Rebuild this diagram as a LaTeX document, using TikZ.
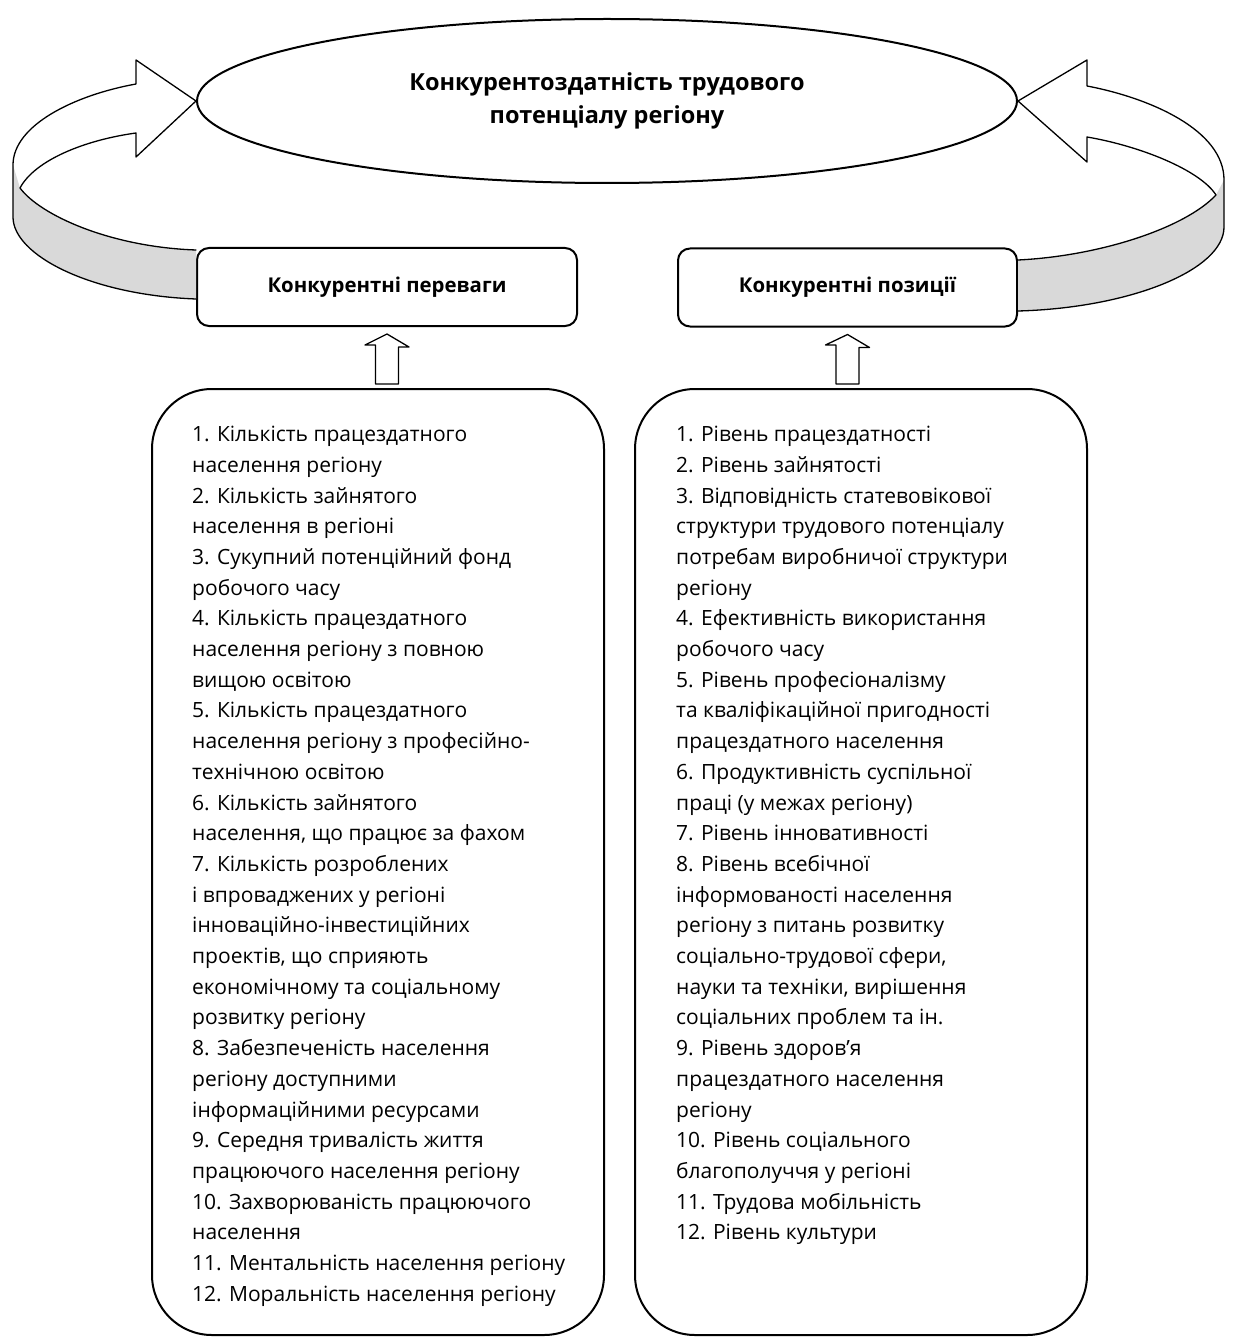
\documentclass[tikz,border=0pt]{standalone}
\usepackage{fontspec}
\setmainfont{Open Sans}
\usetikzlibrary{shapes.geometric,calc,positioning}

\begin{document}
\begin{tikzpicture}[x=1pt,y=-1pt,line join=round,line cap=round,
	hdrbox/.style={draw,line width=2pt,rounded corners=12pt,minimum height=78pt,
		font=\fontsize{20.4}{24}\selectfont\bfseries},
	listbox/.style={draw,line width=2pt,rounded corners=60pt,minimum width=452pt,minimum height=946pt},
	listtext/.style={anchor=north west,inner sep=0pt,align=left,
		font=\fontsize{21}{30.7}\selectfont},
	ribbon/.style={line width=1.3pt},
	bandfill/.style={fill=gray!30},
	hollow/.style={draw,line width=1.3pt}]
	\useasboundingbox (0,0) rectangle (1234,1337);
	% goal
	\node[ellipse,draw,line width=2pt,minimum width=820pt,minimum height=164pt,
		align=center,font=\fontsize{23.5}{33}\selectfont\bfseries] (goal) at (607,101)
		{Конкурентоздатність трудового\\потенціалу регіону};
	% two headers
	\node[hdrbox,minimum width=380pt] (adv) at (387,287) {Конкурентні переваги};
	\node[hdrbox,minimum width=339pt] (pos) at (847.5,287.5) {Конкурентні позиції};
	% two lists
	\node[listbox] (lstA) at (378,862) {};
	\node[listbox] (lstB) at (861,862) {};
	\node[listtext] (txtA) at ($(lstA.north west)+(41,38)$) {1. Кількість працездатного\\
		населення регіону\\
		2. Кількість зайнятого\\
		населення в регіоні\\
		3. Сукупний потенційний фонд\\
		робочого часу\\
		4. Кількість працездатного\\
		населення регіону з повною\\
		вищою освітою\\
		5. Кількість працездатного\\
		населення регіону з професійно-\\
		технічною освітою\\
		6. Кількість зайнятого\\
		населення, що працює за фахом\\
		7. Кількість розроблених\\
		і впроваджених у регіоні\\
		інноваційно-інвестиційних\\
		проектів, що сприяють\\
		економічному та соціальному\\
		розвитку регіону\\
		8. Забезпеченість населення\\
		регіону доступними\\
		інформаційними ресурсами\\
		9. Середня тривалість життя\\
		працюючого населення регіону\\
		10. Захворюваність працюючого\\
		населення\\
		11. Ментальність населення регіону\\
		12. Моральність населення регіону};
	\node[listtext] (txtB) at ($(lstB.north west)+(42,38)$) {1. Рівень працездатності\\
		2. Рівень зайнятості\\
		3. Відповідність статевовікової\\
		структури трудового потенціалу\\
		потребам виробничої структури\\
		регіону\\
		4. Ефективність використання\\
		робочого часу\\
		5. Рівень професіоналізму\\
		та кваліфікаційної пригодності\\
		працездатного населення\\
		6. Продуктивність суспільної\\
		праці (у межах регіону)\\
		7. Рівень інноватив{}ності\\
		8. Рівень всебічної\\
		інформованості населення\\
		регіону з питань розвитку\\
		соціально-трудової сфери,\\
		науки та техніки, вирішення\\
		соціальних проблем та ін.\\
		9. Рівень здоров’я\\
		працездатного населення\\
		регіону\\
		10. Рівень соціального\\
		благополуччя у регіоні\\
		11. Трудова мобільність\\
		12. Рівень культури};
	% hollow arrows list -> header
	\foreach \h/\l in {adv/lstA,pos/lstB}
	\draw[hollow] ($(\h.south)+(0,7)$) -- ++(22,13) -- ++(-10.5,0)
		-- ($(\h.south |- \l.north)+(11.5,-4)$) -- ++(-23,0) -- ++(0,-39)
		-- ++(-10.5,0) -- cycle;
	% left ribbon
	\fill[bandfill] (13,165) -- (13,217) .. controls (13,255) and (90,295) .. (adv.west |- 0,299)
		-- (adv.west |- 0,250) .. controls (110,247) and (40,215) .. (20,188) -- cycle;
	\draw[ribbon] (goal.west) -- (136,60) -- (136,84) .. controls (75,95) and (13,125) .. (13,165)
		-- (13,217) .. controls (13,255) and (90,295) .. (adv.west |- 0,299);
	\draw[ribbon] (goal.west) -- (136,157) -- (136,133) .. controls (85,140) and (35,160) .. (20,188)
		.. controls (40,215) and (110,247) .. (adv.west |- 0,250);
	% right ribbon
	\fill[bandfill] (1224,180) -- (1224,227) .. controls (1224,270) and (1130,308) .. (pos.east |- 0,311)
		-- (pos.east |- 0,260) .. controls (1100,256) and (1185,228) .. (1216,195) -- cycle;
	\draw[ribbon] (goal.east) -- (1087,60) -- (1087,86) .. controls (1150,98) and (1224,130) .. (1224,180)
		-- (1224,227) .. controls (1224,270) and (1130,308) .. (pos.east |- 0,311);
	\draw[ribbon] (goal.east) -- (1087,162) -- (1087,137) .. controls (1140,146) and (1200,170) .. (1216,195)
		.. controls (1185,228) and (1100,256) .. (pos.east |- 0,260);
\end{tikzpicture}
\end{document}
